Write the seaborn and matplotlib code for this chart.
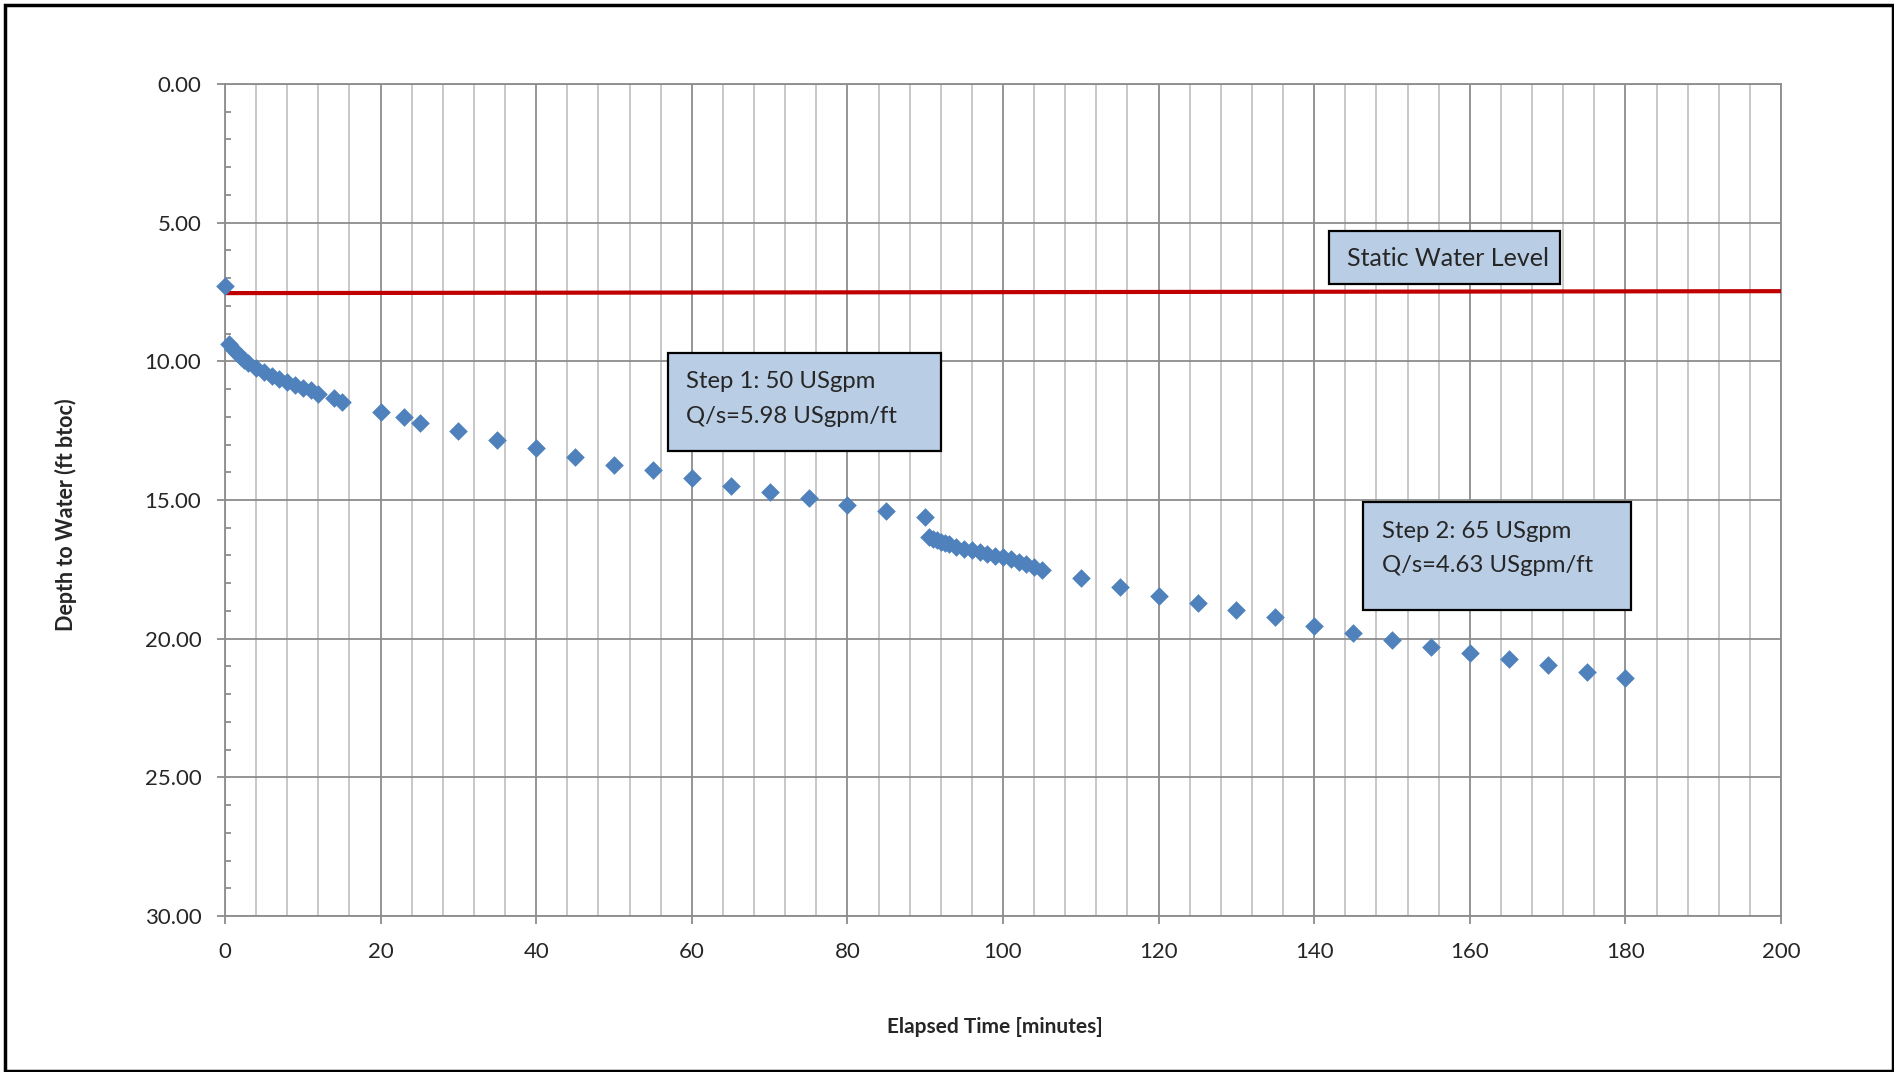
"""
Step drawdown test - depth to water vs elapsed time
"""
import matplotlib
matplotlib.use('Agg')
import matplotlib.pyplot as plt
import matplotlib.ticker as mtick
from matplotlib.patches import Rectangle
import pandas as pd
import seaborn as sns

## Data
elapsed_min = [0, 0.5, 1, 1.5, 2, 2.5, 3, 4, 5, 6, 7, 8, 9, 10, 11, 12, 14, 15,
               20, 23, 25, 30, 35, 40, 45, 50, 55, 60, 65, 70, 75, 80, 85, 90,
               90.5, 91, 91.5, 92, 92.5, 93, 94, 95, 96, 97, 98, 99, 100, 101,
               102, 103, 104, 105,
               110, 115, 120, 125, 130, 135, 140, 145, 150, 155, 160, 165, 170,
               175, 180]
depth_ft = [7.27, 9.39, 9.55, 9.70, 9.84, 9.95, 10.05, 10.24, 10.40, 10.54,
            10.65, 10.76, 10.87, 10.96, 11.05, 11.16, 11.31, 11.45,
            11.84, 12.02, 12.21, 12.50, 12.84, 13.14, 13.44, 13.72, 13.93,
            14.22, 14.49, 14.71, 14.93, 15.18, 15.40, 15.63,
            16.32, 16.40, 16.46, 16.51, 16.56, 16.60, 16.68, 16.75, 16.82,
            16.89, 16.95, 17.01, 17.07, 17.14, 17.22, 17.30, 17.40, 17.51,
            17.82, 18.13, 18.45, 18.70, 18.97, 19.23, 19.53, 19.81, 20.05,
            20.29, 20.51, 20.73, 20.95, 21.20, 21.42]

swl_time = [0, 200]
swl_depth = [7.54, 7.47]

step1_lines = ['Step 1: 50 USgpm', 'Q/s=5.98 USgpm/ft']
step2_lines = ['Step 2: 65 USgpm', 'Q/s=4.63 USgpm/ft']
swl_lines = ['Static Water Level']

x_label = 'Elapsed Time [minutes]'
y_label = 'Depth to Water (ft btoc)'

## Styling
sns.set_theme(style='white')
plt.rcParams['font.family'] = ['Lato', 'DejaVu Sans']

blue = '#4F81BD'
box_fill = '#B9CDE5'
red = '#C00000'
axis_grey = '#8C8C8C'
minor_grey = '#C4C4C4'

W, H = 1894, 1072
fig = plt.figure(figsize=(W / 100, H / 100), dpi=100)
ax = fig.add_axes([225 / W, 1 - 916 / H, (1781 - 225) / W, (916 - 84) / H])

df = pd.DataFrame({'time': elapsed_min, 'depth': depth_ft})
sns.scatterplot(data=df, x='time', y='depth', ax=ax, marker='D', s=90,
                color=blue, edgecolor=blue, linewidth=0, zorder=5,
                clip_on=False)
sns.lineplot(x=swl_time, y=swl_depth, ax=ax, color=red, linewidth=3,
             zorder=4)

ax.set_xlim(0, 200)
ax.set_ylim(30, 0)

ax.xaxis.set_major_locator(mtick.MultipleLocator(20))
ax.xaxis.set_minor_locator(mtick.MultipleLocator(4))
ax.yaxis.set_major_locator(mtick.MultipleLocator(5))
ax.yaxis.set_minor_locator(mtick.MultipleLocator(1))
ax.yaxis.set_major_formatter(mtick.FormatStrFormatter('%.2f'))

ax.set_axisbelow(True)
ax.grid(which='major', axis='both', color=axis_grey, linewidth=1.3)
ax.grid(which='minor', axis='x', color=minor_grey, linewidth=1.3)

ax.tick_params(axis='both', which='major', direction='out', length=6,
               width=1.3, color=axis_grey, labelsize=16,
               bottom=True, left=True)
ax.tick_params(axis='y', which='minor', direction='in', length=4.3,
               width=1.3, color=axis_grey, left=True)
ax.tick_params(axis='x', which='minor', length=0)
ax.tick_params(axis='y', which='major', pad=11)
ax.tick_params(axis='x', which='major', pad=12.5)

for side in ['left', 'bottom', 'top', 'right']:
    ax.spines[side].set_color(axis_grey)
    ax.spines[side].set_linewidth(1.3)

ax.set_xlabel(x_label, fontsize=15, fontweight='bold')
ax.set_ylabel(y_label, fontsize=15.5, fontweight='bold')
ax.xaxis.set_label_coords(0.495, -0.121)
ax.yaxis.set_label_coords(-0.095, 0.482)

## Annotation boxes
def add_box(x0, y0, x1, y1, tx, baselines, lines, size=17.2):
    ax.add_patch(Rectangle((x0, y0), x1 - x0, y1 - y0, facecolor=box_fill,
                           edgecolor='black', linewidth=1.6, zorder=6))
    for ty, line in zip(baselines, lines):
        ax.text(tx, ty, line, fontsize=size, ha='left', va='baseline',
                zorder=7)

add_box(56.9, 9.69, 92.0, 13.23, 59.3, [10.96, 12.21], step1_lines)
add_box(146.3, 15.08, 180.7, 18.97, 148.7, [16.38, 17.59], step2_lines)
add_box(141.9, 5.30, 171.6, 7.21, 144.2, [6.58], swl_lines, size=18)

## Outer frame
fig.patches.append(Rectangle((4.5 / W, 1.5 / H), (W - 6) / W, (H - 6) / H,
                             transform=fig.transFigure, fill=False,
                             edgecolor='black', linewidth=2.5))

fig.savefig('out.png', dpi=100)
